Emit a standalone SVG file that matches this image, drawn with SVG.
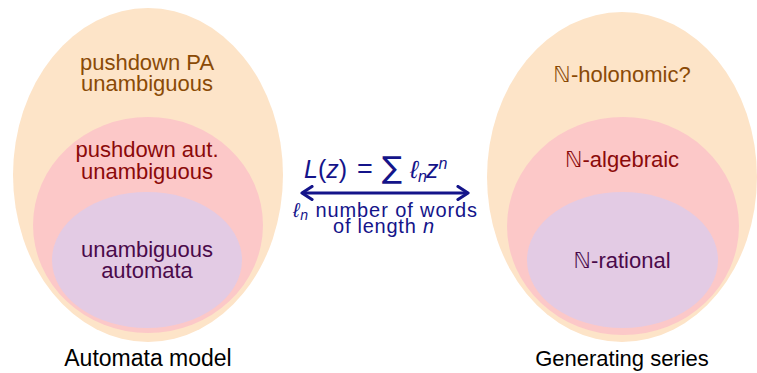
<svg xmlns="http://www.w3.org/2000/svg" width="757" height="373" viewBox="0 0 757 373">
<style>
text{font-family:"Liberation Sans","DejaVu Sans",sans-serif;text-anchor:middle}
.outer{fill:#FDE4C8}
.mid{fill:#FCC8C8}
.inner{fill:#E3CBE4}
.t1{fill:#8A4A06;font-size:22px}
.t2{fill:#8B0A0A;font-size:22px}
.t3{fill:#4A0A4A;font-size:22px}
.cap{fill:#000;font-size:22px}
.blue{fill:#14148A}
.m{font-family:"DejaVu Sans","Liberation Sans",sans-serif}
.st{text-anchor:start}
</style>
<defs>
<marker id="ah" viewBox="0 0 14 16" refX="12" refY="8" markerWidth="14" markerHeight="16" markerUnits="userSpaceOnUse" orient="auto-start-reverse">
<path d="M2 1.5 L12 8 L2 14.5" fill="none" stroke="#14148A" stroke-width="3.2" stroke-linecap="round" stroke-linejoin="round"/>
</marker>
</defs>
<g id="left-model">
<g id="pushdown-pa">
<ellipse class="outer" cx="148" cy="175" rx="135" ry="167"/>
<text class="t1" x="147" y="70">pushdown PA</text>
<text class="t1" x="147" y="91">unambiguous</text>
</g>
<g id="pushdown-aut">
<ellipse class="mid" cx="148" cy="225" rx="115" ry="108"/>
<text class="t2" x="147" y="157">pushdown aut.</text>
<text class="t2" x="147" y="179">unambiguous</text>
</g>
<g id="unambiguous-automata">
<ellipse class="inner" cx="147" cy="260" rx="95" ry="68"/>
<text class="t3" x="147" y="257">unambiguous</text>
<text class="t3" x="147" y="278">automata</text>
</g>
<text class="cap" x="148" y="366" style="font-size:23px">Automata model</text>
</g>
<g id="right-series">
<g id="n-holonomic">
<ellipse class="outer" cx="622" cy="177" rx="135" ry="165"/>
<text class="t1" x="622" y="82"><tspan class="m">ℕ</tspan>-holonomic?</text>
</g>
<g id="n-algebraic">
<ellipse class="mid" cx="623" cy="226" rx="116" ry="109"/>
<text class="t2" x="622" y="167"><tspan class="m">ℕ</tspan>-algebraic</text>
</g>
<g id="n-rational">
<ellipse class="inner" cx="622.5" cy="260" rx="95.5" ry="68"/>
<text class="t3" x="622" y="268"><tspan class="m">ℕ</tspan>-rational</text>
</g>
<text class="cap" x="622" y="366">Generating series</text>
</g>
<g id="connectors">
<line x1="302" y1="193" x2="468" y2="193" stroke="#14148A" stroke-width="3.2" marker-start="url(#ah)" marker-end="url(#ah)"/>
</g>
<g id="label">
<text class="blue st" y="178" font-size="25"><tspan x="304" font-style="italic">L</tspan><tspan>(</tspan><tspan font-style="italic">z</tspan><tspan>)</tspan><tspan x="357" font-size="27">=</tspan><tspan x="382" class="m" font-size="30">∑</tspan><tspan x="410" font-style="italic">ℓ</tspan><tspan font-style="italic" font-size="16" dy="4">n</tspan><tspan x="426" font-style="italic" dy="-4">z</tspan><tspan font-style="italic" font-size="16" dy="-9">n</tspan></text>
<text class="blue st" x="293" y="217" font-size="20" textLength="184" lengthAdjust="spacing"><tspan font-style="italic">ℓ</tspan><tspan font-style="italic" font-size="14" dy="3">n</tspan><tspan dy="-3"> number of words</tspan></text>
<text class="blue st" x="333" y="233" font-size="20" textLength="101" lengthAdjust="spacing">of length <tspan font-style="italic">n</tspan></text>
</g>
</svg>
